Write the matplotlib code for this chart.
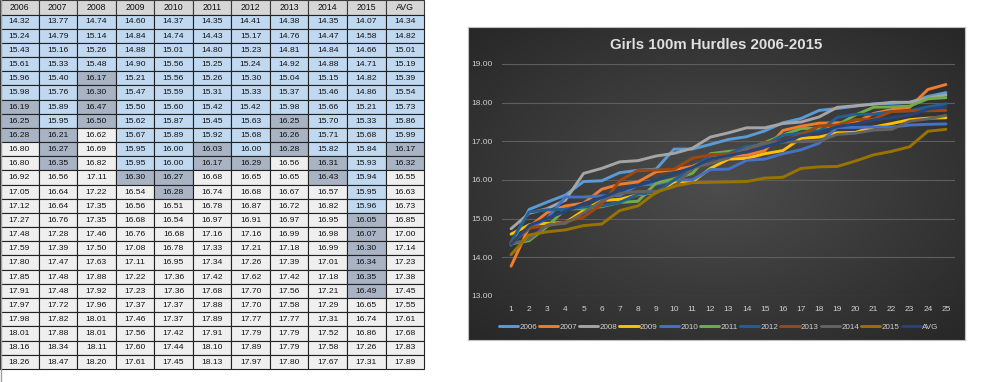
import numpy as np
import matplotlib
matplotlib.use("Agg")
import matplotlib.pyplot as plt
from matplotlib.patches import Rectangle

# Girls 100m hurdles, top 25 times per year (seconds)
columns = ["2006", "2007", "2008", "2009", "2010", "2011", "2012", "2013", "2014", "2015", "AVG"]
ranks = list(range(1, 26))

t2006 = [14.32, 15.24, 15.43, 15.61, 15.96, 15.98, 16.19, 16.25, 16.28, 16.80, 16.80, 16.92, 17.05,
         17.12, 17.27, 17.48, 17.59, 17.80, 17.85, 17.91, 17.97, 17.98, 18.01, 18.16, 18.26]
t2007 = [13.77, 14.79, 15.16, 15.33, 15.40, 15.76, 15.89, 15.95, 16.21, 16.27, 16.35, 16.56, 16.64,
         16.64, 16.76, 17.28, 17.39, 17.47, 17.48, 17.48, 17.72, 17.82, 17.88, 18.34, 18.47]
t2008 = [14.74, 15.14, 15.26, 15.48, 16.17, 16.30, 16.47, 16.50, 16.62, 16.69, 16.82, 17.11, 17.22,
         17.35, 17.35, 17.46, 17.50, 17.63, 17.88, 17.92, 17.96, 18.01, 18.01, 18.11, 18.20]
t2009 = [14.60, 14.84, 14.88, 14.90, 15.21, 15.47, 15.50, 15.62, 15.67, 15.95, 15.95, 16.30, 16.54,
         16.56, 16.68, 16.76, 17.08, 17.11, 17.22, 17.23, 17.37, 17.46, 17.56, 17.60, 17.61]
t2010 = [14.37, 14.74, 15.01, 15.56, 15.56, 15.59, 15.60, 15.87, 15.89, 16.00, 16.00, 16.27, 16.28,
         16.51, 16.54, 16.68, 16.78, 16.95, 17.36, 17.36, 17.37, 17.37, 17.42, 17.44, 17.45]
t2011 = [14.35, 14.43, 14.80, 15.25, 15.26, 15.31, 15.42, 15.45, 15.92, 16.03, 16.17, 16.68, 16.74,
         16.78, 16.97, 17.16, 17.33, 17.34, 17.42, 17.68, 17.88, 17.89, 17.91, 18.10, 18.13]
t2012 = [14.41, 15.17, 15.23, 15.24, 15.30, 15.33, 15.42, 15.63, 15.68, 16.00, 16.29, 16.65, 16.68,
         16.87, 16.91, 17.16, 17.21, 17.26, 17.62, 17.70, 17.70, 17.77, 17.79, 17.89, 17.97]
t2013 = [14.38, 14.76, 14.81, 14.92, 15.04, 15.37, 15.98, 16.25, 16.26, 16.28, 16.56, 16.65, 16.67,
         16.72, 16.97, 16.99, 17.18, 17.39, 17.42, 17.56, 17.58, 17.77, 17.79, 17.79, 17.80]
t2014 = [14.35, 14.47, 14.84, 14.88, 15.15, 15.46, 15.66, 15.70, 15.71, 15.82, 16.31, 16.43, 16.57,
         16.82, 16.95, 16.98, 16.99, 17.01, 17.18, 17.21, 17.29, 17.31, 17.52, 17.58, 17.67]
t2015 = [14.07, 14.58, 14.66, 14.71, 14.82, 14.86, 15.21, 15.33, 15.68, 15.84, 15.93, 15.94, 15.95,
         15.96, 16.05, 16.07, 16.30, 16.34, 16.35, 16.49, 16.65, 16.74, 16.86, 17.26, 17.31]
t_avg = [14.34, 14.82, 15.01, 15.19, 15.39, 15.54, 15.73, 15.86, 15.99, 16.17, 16.32, 16.55, 16.63,
         16.73, 16.85, 17.00, 17.14, 17.23, 17.38, 17.45, 17.55, 17.61, 17.68, 17.83, 17.89]

series = [t2006, t2007, t2008, t2009, t2010, t2011, t2012, t2013, t2014, t2015, t_avg]
line_colors = ["#5B9BD5", "#ED7D31", "#A5A5A5", "#FFC000", "#4472C4", "#70AD47",
               "#255E91", "#9E480E", "#636363", "#997300", "#264478"]

W, H = 1000, 382
fig = plt.figure(figsize=(W / 100, H / 100), dpi=100)
fig.patch.set_facecolor("white")

# ---------- table on the left (pixel coordinates) ----------
tab = fig.add_axes([0, 0, 1, 1])
tab.set_xlim(0, W)
tab.set_ylim(H, 0)
tab.axis("off")

col_w = 38.55
row_h = 14.17
head_h = 14.6
tab.plot([0.5, 0.5], [0, H], color="#A0A0A0", lw=1)


def cell_color(v):
    if v <= 16.00:
        return "#C0D8F0"
    if v <= 16.50:
        return "#A8B3C4"
    return "#EFEFEF"


for j, name in enumerate(columns):
    x0 = j * col_w
    tab.add_patch(Rectangle((x0, 0), col_w, head_h, facecolor="#D6D6D6",
                            edgecolor="#3A3A3A", lw=0.8))
    tab.text(x0 + col_w / 2, head_h / 2 + 0.5, name, ha="center", va="center",
             fontsize=6.3, family="Liberation Sans", color="#111111")
    for i, v in enumerate(series[j]):
        y0 = head_h + i * row_h
        tab.add_patch(Rectangle((x0, y0), col_w, row_h, facecolor=cell_color(v),
                                edgecolor="#222222", lw=0.8))
        tab.text(x0 + col_w / 2, y0 + row_h / 2 + 0.3, f"{v:.2f}", ha="center", va="center",
                 fontsize=6.1, family="Liberation Sans", color="#111111")

# ---------- chart panel ----------
px0, py0, px1, py1 = 468, 27, 965, 340
bg = fig.add_axes([px0 / W, 1 - py1 / H, (px1 - px0) / W, (py1 - py0) / H])
gx, gy = np.meshgrid(np.linspace(-1, 1, 300), np.linspace(-1, 1, 200))
r = np.clip(np.sqrt(gx ** 2 + gy ** 2) / 1.35, 0, 1)
shade = 0.30 - 0.14 * r
bg.imshow(np.dstack([shade, shade, shade]), aspect="auto", extent=[0, 1, 0, 1])
bg.set_xticks([])
bg.set_yticks([])
for s in bg.spines.values():
    s.set_color("#BFBFBF")
    s.set_linewidth(0.8)

bg.text(0.5, 1 - (45 - py0) / (py1 - py0), "Girls 100m Hurdles 2006-2015",
        transform=bg.transAxes, ha="center", va="center", color="#E0E0E0",
        fontsize=10.8, fontweight="bold", family="Liberation Sans")

ax = fig.add_axes([502 / W, 1 - 296 / H, 453 / W, 232 / H])
ax.patch.set_alpha(0)
for name, vals, c in zip(columns, series, line_colors):
    ax.plot(ranks, vals, color=c, lw=2.1, label=name, solid_capstyle="round")

ax.set_xlim(0.5, 25.5)
ax.set_ylim(13, 19)
ax.set_xticks(ranks)
ax.set_yticks(np.arange(13, 19.5, 1))
ax.yaxis.set_major_formatter(plt.FuncFormatter(lambda v, p: f"{v:.2f}"))
ax.grid(axis="y", color="#5E5E5E", lw=0.8)
ax.set_axisbelow(True)
for s in ax.spines.values():
    s.set_visible(False)
ax.tick_params(length=0, colors="#D0D0D0", labelsize=6, pad=7)
for lab in ax.get_xticklabels() + ax.get_yticklabels():
    lab.set_family("Liberation Sans")

leg = fig.legend(loc="center", bbox_to_anchor=(718.5 / W, 1 - 327 / H), ncol=11,
                 frameon=False, handlelength=2.4, handletextpad=0.15,
                 columnspacing=0.25, prop={"family": "Liberation Sans", "size": 5.8})
for t in leg.get_texts():
    t.set_color("#D0D0D0")

fig.savefig("out.png", dpi=100)
